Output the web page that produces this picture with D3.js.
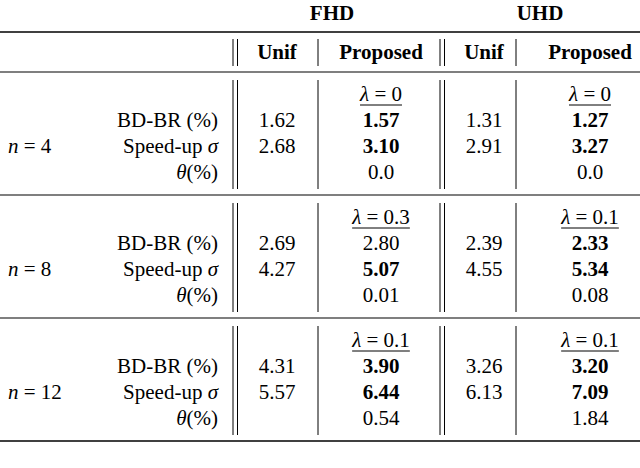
<!DOCTYPE html>
<html><head><meta charset="utf-8">
<script src="https://cdn.jsdelivr.net/npm/d3@7"></script>
<style>body{margin:0;background:#fff} text{font-family:"Liberation Serif","Times New Roman",Times,"Nimbus Roman","DejaVu Serif",serif;}</style>
</head><body>
<svg id="t" width="640" height="468"></svg>
<script>
// table data
var groups = ["FHD", "UHD"];
var methods = ["Unif", "Proposed"];
var nValues = [4, 8, 12];
var metrics = ["BD-BR (%)", "Speed-up σ", "θ(%)"];
var lambdaFHD = ["0", "0.3", "0.1"];
var lambdaUHD = ["0", "0.1", "0.1"];
var unifFHD = [[1.62, 2.68], [2.69, 4.27], [4.31, 5.57]];
var propFHD = [["1.57", "3.10", "0.0"], ["2.80", "5.07", "0.01"], ["3.90", "6.44", "0.54"]];
var boldFHD = [[1, 1, 0], [0, 1, 0], [1, 1, 0]];
var unifUHD = [[1.31, 2.91], [2.39, 4.55], [3.26, 6.13]];
var propUHD = [["1.27", "3.27", "0.0"], ["2.33", "5.34", "0.08"], ["3.20", "7.09", "1.84"]];
var boldUHD = [[1, 1, 0], [1, 1, 0], [1, 1, 0]];

var svg = d3.select("#t");
var fs = 21;

// column centres
var colX = d3.scaleOrdinal().domain(["u0", "p0", "u1", "p1"]).range([277, 381, 484, 590]);
var blockTop = d3.scaleLinear().domain([0, 1]).range([72, 195]);
var rowY = function(b, r) { return blockTop(b) + 22 + r * 26; };

// rules
var rules = [[32, 1.6], [72, 1.2], [195, 1.2], [318, 1.2], [441, 1.6]];
svg.selectAll("line.h").data(rules).join("line")
  .attr("x1", 0).attr("x2", 640)
  .attr("y1", d => d[0]).attr("y2", d => d[0])
  .attr("stroke", "#000").attr("stroke-width", d => d[1]);

// vertical separators
var vx = [233, 237.5, 318, 440, 444.5, 516];
var spans = [[39, 66], [80, 189], [203, 312], [326, 435]];
spans.forEach(function(s) {
  svg.selectAll(null).data(vx).join("line")
    .attr("x1", d => d).attr("x2", d => d)
    .attr("y1", s[0]).attr("y2", s[1])
    .attr("stroke", "#000").attr("stroke-width", 1);
});

function txt(x, y, s, opt) {
  opt = opt || {};
  return svg.append("text").attr("x", x).attr("y", y)
    .attr("text-anchor", opt.anchor || "middle")
    .attr("font-size", opt.size || fs)
    .attr("font-weight", opt.bold ? "bold" : "normal")
    .text(s);
}

// headers
groups.forEach(function(g, i) {
  txt((colX("u" + i) + colX("p" + i)) / 2 + 3, 20, g, {bold: true});
  methods.forEach(function(m, j) {
    txt(colX((j ? "p" : "u") + i), 59, m, {bold: true});
  });
});

nValues.forEach(function(n, b) {
  var nt = svg.append("text").attr("x", 8).attr("y", rowY(b, 2) + 7).attr("font-size", fs);
  nt.append("tspan").attr("font-style", "italic").text("n");
  nt.append("tspan").text(" = " + n);

  metrics.forEach(function(m, r) {
    var t = txt(218, rowY(b, r + 1) + 7, "", {anchor: "end"});
    if (r === 1) { t.append("tspan").text("Speed-up "); t.append("tspan").attr("font-style", "italic").text("σ"); }
    else if (r === 2) { t.append("tspan").attr("font-style", "italic").text("θ"); t.append("tspan").text("(%)"); }
    else t.text(m);
  });

  [[lambdaFHD, unifFHD, propFHD, boldFHD], [lambdaUHD, unifUHD, propUHD, boldUHD]].forEach(function(set, gi) {
    var px = colX("p" + gi), ux = colX("u" + gi);
    var lt = txt(px, rowY(b, 0) + 7, "");
    lt.append("tspan").attr("font-style", "italic").text("λ");
    lt.append("tspan").text(" = " + set[0][b]);
    var w = lt.node().getComputedTextLength();
    svg.append("line").attr("x1", px - w / 2).attr("x2", px + w / 2)
      .attr("y1", rowY(b, 0) + 11).attr("y2", rowY(b, 0) + 11)
      .attr("stroke", "#000").attr("stroke-width", 1);
    set[1][b].forEach(function(v, r) { txt(ux, rowY(b, r + 1) + 7, v.toFixed(2)); });
    set[2][b].forEach(function(v, r) { txt(px, rowY(b, r + 1) + 7, v, {bold: set[3][b][r]}); });
  });
});
</script>
</body></html>
